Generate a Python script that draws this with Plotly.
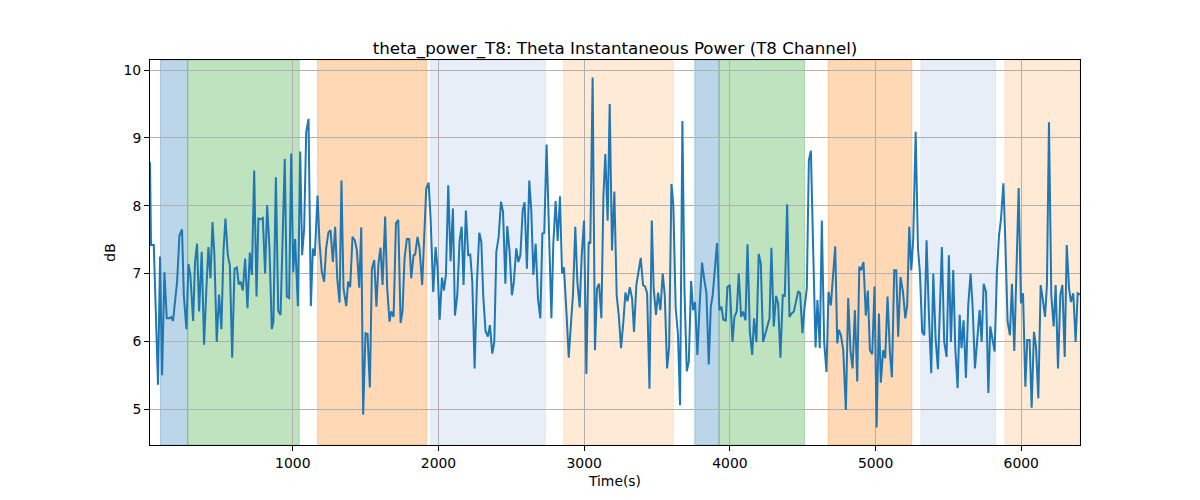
import plotly.graph_objects as go

# ---- data ----
time_s = [20, 27, 46, 75, 89, 103, 119, 135, 153, 165, 178, 192, 206, 222, 240, 252, 270, 284, 297, 316,
          329, 343, 357, 375, 391, 407, 421, 435, 449, 462, 478, 494, 510, 524, 538, 554, 568, 584, 600, 616,
          629, 643, 657, 673, 689, 705, 719, 735, 751, 764, 778, 794, 810,
          824, 840, 856, 867, 884, 900, 916, 929, 945, 959, 975, 989, 1003, 1016, 1035, 1051, 1064, 1078, 1092,
          1108, 1124, 1138, 1151, 1170, 1183, 1199, 1215, 1229, 1245, 1259, 1275, 1291, 1305, 1321, 1334, 1348,
          1367, 1380, 1394, 1410, 1426, 1440, 1456, 1470, 1483, 1499, 1513, 1529, 1543, 1559, 1574,
          1588, 1602, 1616, 1634, 1648, 1664, 1676, 1692, 1708, 1724, 1740, 1753, 1767, 1783, 1799, 1813, 1829,
          1840, 1856, 1870, 1888, 1902, 1916, 1932, 1946, 1964, 1980, 1994, 2008, 2024, 2037, 2051, 2067, 2083,
          2099, 2113, 2129, 2145, 2159, 2172, 2188, 2204, 2218, 2232, 2248, 2264, 2280, 2294, 2307, 2323, 2339,
          2353, 2369,
          2383, 2397, 2413, 2429, 2443, 2459, 2472, 2488, 2504, 2516, 2534, 2548, 2562, 2578, 2591, 2607, 2623,
          2637, 2651, 2667, 2683, 2699, 2713, 2726, 2742, 2758, 2775, 2788, 2804, 2818, 2834, 2848, 2861, 2878,
          2894, 2910, 2923, 2939, 2953, 2969, 2983, 2999, 3015, 3031, 3042, 3058, 3074, 3088, 3102, 3118, 3132,
          3145, 3161, 3175,
          3191, 3207, 3223, 3237, 3253, 3269, 3283, 3297, 3313, 3329, 3342, 3358, 3372, 3388, 3404, 3418, 3432,
          3448, 3464, 3477, 3493, 3507, 3523, 3539, 3553, 3569, 3583, 3599, 3612, 3628, 3644, 3658, 3674, 3688,
          3704, 3718, 3734, 3747, 3761, 3777, 3793, 3809, 3823, 3839, 3855, 3869, 3882, 3898, 3912, 3928, 3942,
          3955,
          3972, 3983, 3999, 4018, 4031, 4047, 4061, 4077, 4091, 4107, 4121, 4137, 4153, 4166, 4182, 4198, 4212,
          4228, 4242, 4258, 4272, 4285, 4301, 4317, 4331, 4347, 4363, 4377, 4393, 4409, 4423, 4439, 4453, 4469,
          4482, 4498, 4512, 4528, 4542, 4556, 4572, 4588, 4601, 4617, 4631, 4647, 4663, 4677, 4693, 4707, 4723,
          4737,
          4748, 4762, 4778, 4796, 4812, 4828, 4842, 4858, 4874, 4888, 4901, 4917, 4933, 4947, 4961, 4977, 4993,
          5007, 5023, 5036, 5052, 5066, 5082, 5098, 5112, 5128, 5142, 5155, 5171, 5188, 5204, 5217, 5231, 5245,
          5258, 5275, 5291, 5304, 5320, 5334, 5350, 5366, 5382, 5396, 5412, 5428, 5442, 5455, 5471, 5487, 5503,
          5517, 5533, 5547,
          5563, 5577, 5590, 5604, 5620, 5636, 5652, 5666, 5682, 5698, 5714, 5728, 5742, 5758, 5774, 5787, 5803,
          5817, 5833, 5847, 5861, 5877, 5890, 5906, 5922, 5936, 5952, 5968, 5982, 5998, 6012, 6028, 6041, 6057,
          6071, 6087, 6101, 6117, 6133, 6147, 6163, 6176, 6190, 6206, 6222, 6236, 6252, 6268, 6282, 6298, 6312,
          6328, 6341, 6357, 6373, 6387, 6403]

power_db = [8.64, 7.42, 7.42, 5.36, 7.25, 5.50, 7.02, 6.34, 6.34, 6.36, 6.30, 6.60, 6.88, 7.56, 7.65, 6.68, 6.18, 7.14, 6.98, 6.30,
            7.17, 7.44, 6.44, 7.32, 5.95, 6.78, 7.39, 6.93, 7.76, 7.27, 5.99, 6.69, 6.18, 7.32, 7.81, 7.27, 7.12, 5.76, 7.07, 7.09,
            6.84, 6.88, 6.75, 7.22, 6.49, 7.31, 6.98, 8.52, 6.66, 7.81, 7.80, 7.82, 7.00,
            8.01, 7.37, 6.18, 6.29, 8.42, 6.45, 6.39, 7.29, 8.69, 6.66, 6.64, 8.77, 7.02, 7.51, 6.52, 8.80, 7.27, 7.66, 9.08,
            9.28, 6.52, 7.37, 7.26, 8.15, 7.47, 7.03, 6.88, 7.37, 7.61, 7.64, 7.17, 7.69, 6.93, 6.57, 8.37, 6.78,
            6.52, 6.88, 6.80, 7.54, 7.49, 7.34, 6.79, 7.68, 4.92, 6.12, 6.11, 5.32, 7.07, 7.20, 6.51,
            7.15, 7.38, 6.83, 7.84, 6.78, 6.29, 6.44, 6.36, 7.74, 7.79, 6.27, 6.44, 7.22, 7.51, 7.51, 6.93, 7.27,
            7.28, 7.54, 7.37, 6.83, 7.47, 8.25, 8.34, 7.81, 6.73, 7.39, 7.07, 6.32, 6.94, 6.75, 6.98, 8.30, 7.18,
            7.96, 6.38, 6.68, 7.49, 7.69, 6.83, 7.93, 7.27, 7.28, 6.88, 5.60, 6.88, 7.60, 7.47, 6.68, 6.15, 6.07,
            6.24, 5.82,
            5.99, 7.32, 7.54, 8.06, 7.91, 6.85, 7.70, 7.32, 6.68, 6.85, 7.37, 7.17, 7.27, 7.93, 8.05, 7.07, 8.37,
            7.93, 6.98, 7.44, 6.63, 6.34, 7.59, 7.60, 8.90, 7.56, 6.34, 7.44, 8.07, 7.48, 8.14, 7.00, 7.09, 6.44,
            5.76, 6.29, 6.68, 7.69, 6.88, 6.50, 7.27, 7.78, 5.52, 7.47, 7.44, 9.89, 5.87, 6.78, 6.85, 6.34, 8.15,
            8.76, 7.78, 9.50,
            7.34, 8.21, 6.68, 6.39, 5.90, 6.29, 6.72, 6.59, 6.80, 6.63, 6.14, 6.83, 7.02, 7.23, 6.83, 6.81, 6.71,
            5.30, 7.78, 6.78, 6.39, 6.72, 6.46, 7.00, 6.68, 5.60, 5.92, 8.32, 8.00, 6.49, 6.09, 5.06, 9.25, 6.78,
            5.56, 5.70, 6.89, 6.46, 6.58, 5.80, 6.56, 7.16, 6.93, 6.71, 5.66, 6.51, 6.68, 7.07, 7.45, 6.46, 6.51,
            6.32,
            6.31, 6.80, 6.83, 5.99, 6.36, 6.44, 7.00, 6.36, 6.44, 6.31, 7.43, 6.14, 5.80, 6.34, 5.99, 7.29, 7.15,
            5.99, 6.09, 6.23, 6.34, 7.38, 6.22, 6.67, 6.56, 5.76, 6.68, 6.67, 8.02, 6.36, 6.41, 6.44, 6.56, 6.74,
            6.71, 6.12, 6.49, 6.78, 8.67, 8.81, 7.32, 5.91, 6.61, 5.90, 7.78, 5.99, 5.55, 6.73, 6.53, 6.88, 7.40,
            5.97,
            6.17, 6.09, 5.87, 4.99, 6.64, 5.85, 5.60, 6.46, 5.41, 7.10, 7.05, 7.17, 6.38, 6.75, 5.87, 5.81, 6.81,
            4.73, 6.41, 5.39, 5.87, 5.75, 6.66, 5.85, 5.47, 7.05, 7.05, 6.07, 6.95, 6.73, 6.34, 6.53, 7.69, 7.05,
            7.49, 9.09, 7.37, 7.02, 6.14, 6.09, 7.49, 6.39, 5.53, 7.00, 6.04, 5.59, 6.68, 7.39, 5.99, 5.77, 7.27,
            5.99, 7.05, 5.90,
            5.31, 6.39, 5.90, 6.31, 5.46, 6.53, 7.00, 6.51, 5.60, 6.02, 6.46, 5.99, 6.85, 6.73, 5.24, 6.22, 5.99,
            5.85, 7.02, 7.56, 7.81, 8.33, 7.51, 6.29, 6.09, 6.85, 5.86, 7.37, 8.26, 6.56, 6.71, 5.33, 6.02, 6.02,
            5.02, 6.14, 5.92, 5.16, 6.83, 6.63, 6.36, 6.83, 9.23, 6.68, 6.22, 6.83, 5.60, 6.68, 6.83, 5.77, 7.42,
            6.78, 6.58, 6.71, 5.99, 6.71, 6.69]

span_starts = [92, 279, 1170, 1946, 2859, 3759, 3926, 4674, 5311, 5888]
span_ends = [279, 1044, 1920, 2733, 3612, 3926, 4512, 5249, 5824, 6403]
span_kinds = ["blue", "green", "orange", "lightblue", "lightorange",
              "blue", "green", "orange", "lightblue", "lightorange"]

title = "theta_power_T8: Theta Instantaneous Power (T8 Channel)"
x_label = "Time(s)"
y_label = "dB"
x_ticks = [1000, 2000, 3000, 4000, 5000, 6000]
y_ticks = [5, 6, 7, 8, 9, 10]

# ---- styling ----
span_rgb = {
    "blue": (31, 119, 180),
    "green": (44, 160, 44),
    "orange": (255, 127, 14),
    "lightblue": (174, 199, 232),
    "lightorange": (255, 187, 120),
}
ALPHA = 0.3
FONT = "DejaVu Sans"

fig = go.Figure()
fig.add_trace(go.Scatter(x=time_s, y=power_db, mode="lines",
                         line=dict(color="#1f77b4", width=2), showlegend=False,
                         hoverinfo="x+y"))

shapes = []
for s, e, k in zip(span_starts, span_ends, span_kinds):
    r, g, b = span_rgb[k]
    col = f"rgba({r},{g},{b},{ALPHA})"
    shapes.append(dict(type="rect", xref="x", yref="paper", x0=s, x1=e, y0=0, y1=1,
                       fillcolor=col, line=dict(color=col, width=1), layer="below"))

ymin, ymax = min(power_db), max(power_db)
pad = 0.05 * (ymax - ymin)

fig.update_layout(
    width=1200, height=500,
    margin=dict(l=150, r=120, t=60, b=55, pad=0),
    plot_bgcolor="white", paper_bgcolor="white",
    shapes=shapes,
    font=dict(family=FONT, size=13.9, color="black"),
    title=dict(text=title, x=0.5, xref="paper", xanchor="center",
               y=1, yref="paper", yanchor="bottom", pad=dict(b=6),
               font=dict(family=FONT, size=16.7, color="black")),
    xaxis=dict(range=[min(time_s), max(time_s)], tickvals=x_ticks,
               showgrid=True, gridcolor="#b0b0b0", gridwidth=1,
               showline=True, linecolor="black", linewidth=1, mirror=True,
               ticks="outside", ticklen=5, tickcolor="black", zeroline=False,
               title=dict(text=x_label, standoff=6, font=dict(family=FONT, size=13.9))),
    yaxis=dict(range=[ymin - pad, ymax + pad], tickvals=y_ticks,
               showgrid=True, gridcolor="#b0b0b0", gridwidth=1,
               showline=True, linecolor="black", linewidth=1, mirror=True,
               ticks="outside", ticklen=5, tickcolor="black", zeroline=False,
               title=dict(text=y_label, standoff=4, font=dict(family=FONT, size=13.9))),
)

fig.write_html("out.html")
